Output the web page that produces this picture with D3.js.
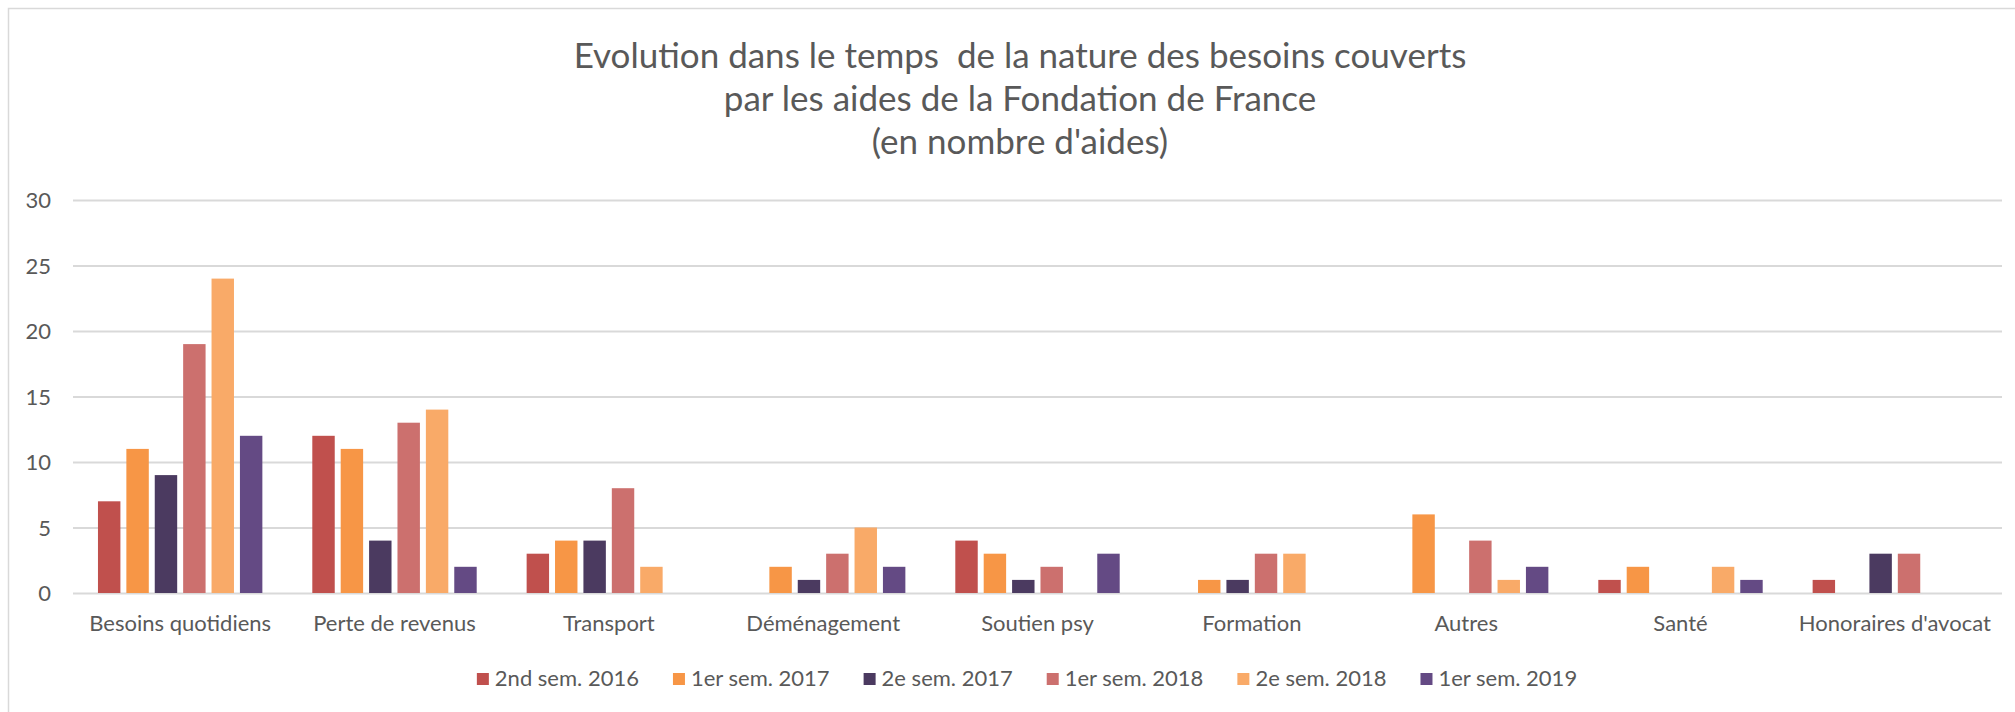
<!DOCTYPE html>
<html>
<head>
<meta charset="utf-8">
<script src="https://cdn.jsdelivr.net/npm/d3@7"></script>
<style>
  body { margin: 0; background: #fff; }
  svg text { font-family: Lato, "Open Sans", sans-serif; fill: #595959; }
</style>
</head>
<body>
<div id="chart"></div>
<script>
// categories (x axis) and series (one per semester)
var categories = ["Besoins quotidiens", "Perte de revenus", "Transport", "Déménagement",
  "Soutien psy", "Formation", "Autres", "Santé", "Honoraires d'avocat"];
var seriesNames = ["2nd sem. 2016", "1er sem. 2017", "2e sem. 2017",
  "1er sem. 2018", "2e sem. 2018", "1er sem. 2019"];
var sem2016b = [7, 12, 3, 0, 4, 0, 0, 1, 1];
var sem2017a = [11, 11, 4, 2, 3, 1, 6, 2, 0];
var sem2017b = [9, 4, 4, 1, 1, 1, 0, 0, 3];
var sem2018a = [19, 13, 8, 3, 2, 3, 4, 0, 3];
var sem2018b = [24, 14, 2, 5, 0, 3, 1, 2, 0];
var sem2019a = [12, 2, 0, 2, 3, 0, 2, 1, 0];
var yTicks = [0, 5, 10, 15, 20, 25, 30];
var titleLines = ["Evolution dans le temps  de la nature des besoins couverts",
  "par les aides de la Fondation de France", "(en nombre d'aides)"];
var colors = ["#C0504D", "#F79646", "#4B3A60", "#CC706E", "#F9AA68", "#644A84"];

var allSeries = [sem2016b, sem2017a, sem2017b, sem2018a, sem2018b, sem2019a];

var W = 2015, H = 712,
    margin = {top: 200, right: 13, bottom: 119, left: 73};

var svg = d3.select("#chart").append("svg")
  .attr("width", W).attr("height", H);

// outer frame of the chart area
svg.append("rect")
  .attr("x", 8.5).attr("y", 8.5)
  .attr("width", W).attr("height", H)
  .attr("fill", "none").attr("stroke", "#d9d9d9").attr("stroke-width", 1.5);

// title
svg.append("g").selectAll("text")
  .data(titleLines)
  .join("text")
  .attr("x", 1020)
  .attr("y", function(d, i) { return 68 + i * 43; })
  .attr("text-anchor", "middle")
  .style("font-size", "35px")
  .style("white-space", "pre")
  .text(function(d) { return d; });

var x0 = d3.scaleBand()
  .domain(categories)
  .range([margin.left, W - margin.right])
  .paddingInner(0.233)
  .paddingOuter(0.1165);

var x1 = d3.scaleBand()
  .domain(d3.range(seriesNames.length))
  .range([0, x0.bandwidth()])
  .paddingInner(0.21);

var y = d3.scaleLinear()
  .domain([0, 30])
  .range([H - margin.bottom, margin.top]);

// gridlines
var yAxis = d3.axisLeft(y).tickValues(yTicks).tickSize(-(W - margin.right - margin.left)).tickPadding(22);
var gy = svg.append("g")
  .attr("transform", "translate(" + margin.left + ",0)")
  .call(yAxis);
gy.select(".domain").remove();
gy.selectAll(".tick line").attr("stroke", "#d9d9d9").attr("stroke-width", 2);
gy.selectAll(".tick text")
  .attr("dy", "0.35em")
  .style("font-size", "22px");

// bars
var groups = svg.append("g").selectAll("g")
  .data(categories)
  .join("g")
  .attr("transform", function(d) { return "translate(" + x0(d) + ",0)"; });

groups.selectAll("rect")
  .data(function(d, ci) {
    return allSeries.map(function(s, si) { return {si: si, v: s[ci]}; });
  })
  .join("rect")
  .attr("x", function(d) { return x1(d.si); })
  .attr("width", x1.bandwidth())
  .attr("y", function(d) { return y(d.v); })
  .attr("height", function(d) { return y(0) - y(d.v); })
  .attr("fill", function(d) { return colors[d.si]; });

// category axis labels
var xAxis = d3.axisBottom(x0).tickSize(0).tickPadding(22);
var gx = svg.append("g")
  .attr("transform", "translate(0," + y(0) + ")")
  .call(xAxis);
gx.select(".domain").remove();
gx.selectAll(".tick text").style("font-size", "22px");

// legend
var legend = svg.append("g");
var items = legend.selectAll("g")
  .data(seriesNames)
  .join("g");
items.append("rect")
  .attr("width", 12).attr("height", 12)
  .attr("y", 673)
  .attr("fill", function(d, i) { return colors[i]; });
items.append("text")
  .attr("x", 18).attr("y", 686)
  .style("font-size", "22px")
  .text(function(d) { return d; });

var pos = 0, gap = 34;
items.each(function() {
  var w = d3.select(this).select("text").node().getComputedTextLength();
  d3.select(this).attr("transform", "translate(" + pos + ",0)");
  pos += 18 + w + gap;
});
var total = pos - gap;
legend.attr("transform", "translate(" + (1027 - total / 2) + ",0)");
</script>
</body>
</html>
